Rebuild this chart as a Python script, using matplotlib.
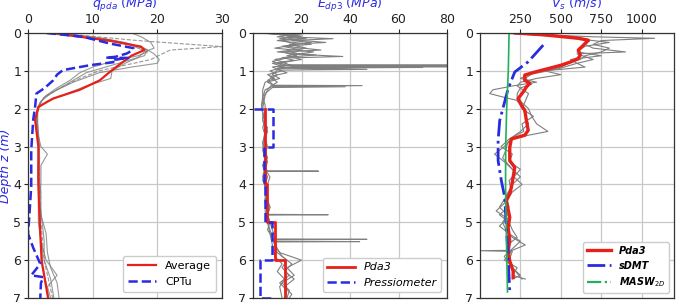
import matplotlib
matplotlib.use("Agg")
import matplotlib.pyplot as plt
from matplotlib.lines import Line2D
import numpy as np

# ---------------- data ----------------
# Panel 1: q_pda (MPa) vs depth (m)
Q_GRAY = [
    [(0, 16), (0.1, 17.5), (0.25, 19), (0.4, 19.5), (0.5, 18), (0.65, 17), (0.8, 15), (1.0, 13),
     (1.2, 12.8), (1.4, 9), (1.6, 6), (1.8, 3), (2.0, 1.5), (2.5, 1.3), (3.0, 2.0), (3.2, 3.0),
     (3.5, 2.0), (4.0, 2.0), (4.5, 1.8), (5.0, 2.2), (5.5, 2.5), (6.0, 2.5), (6.5, 3.5), (7.0, 4.0)],
    [(0, 2), (0.1, 8), (0.25, 14), (0.4, 18), (0.55, 19.5), (0.7, 20.3), (0.8, 20), (0.9, 16),
     (1.05, 11), (1.3, 7), (1.5, 4.5), (1.7, 2.5), (1.9, 1.8), (2.2, 1.2), (2.8, 1.5), (3.3, 1.8),
     (3.8, 1.5), (4.3, 1.8), (4.8, 2.0), (5.3, 2.8), (5.8, 3.0), (6.2, 3.5), (6.6, 4.5), (7.0, 4.8)],
    [(0, 5), (0.1, 10), (0.25, 15), (0.4, 17), (0.5, 18.5), (0.6, 17), (0.75, 13), (0.9, 10),
     (1.05, 8), (1.25, 6.5), (1.45, 4.5), (1.65, 2.8), (1.85, 1.8), (2.1, 1.3), (2.6, 1.6), (3.0, 1.8),
     (3.6, 1.5), (4.2, 2.0), (4.7, 2.0), (5.2, 1.8), (5.7, 2.2), (6.2, 2.2), (6.6, 2.8), (7.0, 3.2)],
    [(0, 3), (0.15, 12), (0.3, 16), (0.45, 18.5), (0.6, 18), (0.75, 15), (0.9, 12), (1.05, 9),
     (1.2, 7.5), (1.4, 5.5), (1.6, 3.5), (1.8, 2.0), (2.0, 1.5), (2.5, 1.5), (3.0, 1.6), (3.5, 1.8),
     (4.0, 1.8), (4.5, 1.6), (5.0, 1.6), (5.5, 2.0), (6.0, 2.8), (6.4, 4.5), (6.7, 3.0), (7.0, 3.5)],
]
Q_GRAY_DASHED = [(0, 4.4), (0.2, 17), (0.36, 30), (0.45, 22), (0.58, 20.4), (0.7, 19), (0.85, 15),
                 (1.0, 11), (1.2, 8), (1.45, 5), (1.7, 2.5), (1.9, 1.8), (2.2, 1.4), (3.0, 1.7),
                 (4.0, 1.8), (5.0, 2.0), (6.0, 2.5), (7.0, 3.8)]
Q_AVG_DEPTH = [0, 0.1, 0.2, 0.36, 0.45, 0.6, 0.75, 0.89, 1.05, 1.25, 1.5, 1.73, 1.95, 2.3, 3.0,
               4.0, 4.5, 5.3, 6.0, 6.5, 7.0]
Q_AVG = [4.0, 8.0, 12.5, 17.5, 18.0, 16.0, 14.8, 13.7, 12.5, 11.1, 8.0, 3.9, 1.6, 1.1, 1.6,
         1.6, 1.7, 1.9, 2.1, 2.6, 3.1]
Q_CPTU_DEPTH = [0, 0.1, 0.28, 0.4, 0.47, 0.54, 0.63, 0.65, 0.66, 0.7, 0.76, 0.85, 0.98, 1.1,
                1.25, 1.45, 1.6, 1.95, 2.3, 3.1, 4.05, 4.85, 5.3, 5.67, 6.1, 6.4, 6.45, 6.6, 7.0]
Q_CPTU = [2.9, 8.5, 12.7, 16.3, 16.0, 15.3, 13.5, 12.0, 15.5, 13.5, 13.7, 9.6, 5.4, 4.5,
          3.9, 2.6, 1.3, 1.1, 0.8, 0.5, 0.5, 0.2, 0.0, 0.8, 1.9, 0.5, 2.4, 2.0, 1.9]

# Panel 2: E_dp3 (MPa) vs depth (m)
E_GRAY = [
    [(0, 2), (0.05, 15), (0.1, 10), (0.15, 22), (0.2, 12), (0.3, 18), (0.4, 9), (0.5, 25), (0.6, 14),
     (0.7, 20), (0.8, 10), (0.84, 16), (0.85, 80), (0.86, 12), (0.9, 8), (1.0, 12), (1.1, 6),
     (1.2, 9), (1.3, 5), (1.5, 4), (1.7, 4), (1.9, 5), (2.1, 5), (2.3, 4), (2.5, 6), (2.7, 5),
     (2.9, 4), (3.1, 5), (3.3, 6), (3.5, 4), (3.64, 6), (3.65, 27), (3.66, 5), (3.8, 6), (4.0, 5),
     (4.2, 6), (4.4, 5), (4.6, 7), (4.8, 6), (5.0, 7), (5.2, 8), (5.4, 9), (5.6, 9), (5.8, 10),
     (6.0, 14), (6.2, 12), (6.4, 15), (6.6, 11), (6.8, 14), (7.0, 13)],
    [(0, 3), (0.05, 20), (0.1, 14), (0.15, 33), (0.2, 16), (0.25, 24), (0.35, 12), (0.45, 20),
     (0.55, 15), (0.62, 37), (0.66, 14), (0.75, 8), (0.85, 12), (0.88, 18), (0.89, 80), (0.9, 16),
     (0.95, 10), (1.05, 14), (1.15, 7), (1.3, 10), (1.38, 8), (1.39, 45), (1.41, 8), (1.5, 5),
     (1.7, 4), (1.9, 3.5), (2.1, 4), (2.3, 5), (2.5, 4), (2.7, 5), (2.9, 4.5), (3.1, 4), (3.3, 5),
     (3.5, 4), (3.7, 5), (3.9, 4), (4.1, 6), (4.3, 5), (4.5, 5), (4.7, 6), (4.79, 6), (4.8, 31),
     (4.81, 6), (5.0, 6), (5.2, 7), (5.4, 8), (5.44, 8), (5.45, 47), (5.46, 8), (5.6, 9),
     (5.8, 11), (6.0, 20), (6.2, 14), (6.4, 17), (6.6, 12), (6.8, 15), (7.0, 14)],
    [(0, 5), (0.05, 12), (0.1, 20), (0.2, 10), (0.3, 24), (0.35, 13), (0.45, 28), (0.5, 12),
     (0.6, 18), (0.7, 9), (0.8, 14), (0.9, 10), (0.91, 70), (0.93, 11), (0.96, 47), (0.98, 10),
     (1.1, 8), (1.2, 11), (1.3, 6), (1.4, 9), (1.42, 38), (1.44, 8), (1.6, 5), (1.8, 4), (2.0, 3.5),
     (2.2, 4.5), (2.4, 5), (2.6, 6), (2.8, 5), (3.0, 6), (3.2, 5), (3.4, 6), (3.6, 5), (3.8, 7),
     (4.0, 6), (4.2, 5), (4.4, 6), (4.6, 7), (4.8, 6), (5.0, 7), (5.2, 6), (5.4, 8), (5.5, 9),
     (5.51, 44), (5.52, 9), (5.7, 10), (5.9, 12), (6.1, 16), (6.3, 13), (6.5, 17), (6.7, 13),
     (6.9, 16), (7.0, 15)],
    [(0, 4), (0.08, 18), (0.15, 11), (0.25, 30), (0.3, 15), (0.4, 22), (0.5, 10), (0.58, 26),
     (0.65, 12), (0.72, 17), (0.8, 8), (0.9, 13), (1.0, 7), (1.1, 10), (1.25, 6), (1.35, 8),
     (1.5, 6), (1.65, 5), (1.8, 4.5), (2.0, 4), (2.3, 4), (2.6, 5), (2.9, 4), (3.2, 4.5), (3.5, 5),
     (3.8, 4), (4.1, 5), (4.4, 5.5), (4.7, 5), (5.0, 6), (5.3, 7), (5.6, 8), (5.9, 9), (6.1, 12),
     (6.3, 10), (6.5, 13), (6.7, 11), (7.0, 12)],
]
E_PDA3_DEPTH = [2, 3, 3, 4, 4, 5, 5, 6, 6, 7]
E_PDA3 = [4.8, 4.8, 5.0, 5.0, 5.7, 5.7, 9.1, 9.1, 13.2, 13.2]
E_PRESS_DEPTH = [2, 2, 3, 3, 4, 4, 5, 5, 6, 6, 7, 7]
E_PRESS = [0.3, 8.4, 8.4, 4.4, 4.4, 5.0, 5.0, 7.8, 7.8, 3.0, 3.0, 7.8]

# Panel 3: V_s (m/s) vs depth (m)
V_GRAY = [
    [(0, 100), (0.05, 400), (0.1, 700), (0.14, 1080), (0.2, 750), (0.3, 700), (0.4, 800),
     (0.5, 750), (0.6, 650), (0.7, 620), (0.8, 550), (0.9, 500), (1.0, 420), (1.1, 300),
     (1.2, 250), (1.3, 350), (1.4, 200), (1.5, 80), (1.6, 60), (1.7, 150), (1.8, 250), (2.0, 300),
     (2.2, 320), (2.4, 350), (2.6, 420), (2.7, 300), (2.8, 200), (3.0, 150), (3.2, 90), (3.4, 150),
     (3.6, 200), (3.8, 250), (4.0, 200), (4.2, 180), (4.4, 150), (4.6, 120), (4.8, 170), (5.0, 140),
     (5.2, 160), (5.4, 200), (5.6, 280), (5.74, 200), (5.75, 0), (5.77, 200), (6.0, 180),
     (6.2, 200), (6.4, 250), (6.5, 200)],
    [(0, 200), (0.1, 600), (0.2, 680), (0.3, 650), (0.4, 700), (0.5, 900), (0.55, 600), (0.7, 700),
     (0.8, 600), (0.9, 650), (1.0, 400), (1.1, 500), (1.2, 350), (1.3, 250), (1.4, 230), (1.6, 300),
     (1.8, 280), (2.0, 260), (2.2, 330), (2.4, 260), (2.6, 270), (2.8, 180), (3.0, 130), (3.2, 200),
     (3.4, 180), (3.6, 250), (3.8, 210), (4.0, 260), (4.2, 200), (4.5, 150), (4.7, 100), (4.9, 170),
     (5.1, 120), (5.3, 180), (5.5, 250), (5.7, 200), (5.9, 150), (6.1, 180), (6.3, 220), (6.5, 260)],
    [(0, 150), (0.1, 500), (0.15, 600), (0.25, 800), (0.35, 650), (0.5, 600), (0.6, 750),
     (0.7, 560), (0.8, 600), (0.95, 480), (1.05, 330), (1.2, 280), (1.35, 320), (1.45, 250),
     (1.6, 230), (1.8, 230), (2.0, 270), (2.2, 280), (2.4, 300), (2.6, 250), (2.75, 200), (2.9, 170),
     (3.1, 160), (3.3, 140), (3.5, 180), (3.7, 220), (3.9, 180), (4.1, 190), (4.3, 160), (4.6, 180),
     (4.8, 120), (5.0, 180), (5.2, 200), (5.4, 230), (5.6, 170), (5.8, 190), (6.0, 150), (6.2, 230),
     (6.4, 200), (6.5, 280)],
]
V_PDA3_DEPTH = [0, 0.05, 0.14, 0.19, 0.32, 0.45, 0.58, 0.67, 0.76, 0.85, 0.94, 1.03, 1.11, 1.25,
                1.33, 1.42, 1.56, 1.73, 1.91, 2.04, 2.31, 2.57, 2.7, 2.8, 3.02, 3.37, 3.55, 3.81,
                4.08, 4.25, 4.43, 4.87, 5.14, 5.49, 5.76, 6.02, 6.29, 6.46]
V_PDA3 = [220, 400, 608, 670, 640, 608, 620, 608, 563, 502, 422, 341, 277, 277,
          308, 288, 267, 236, 256, 277, 287, 298, 277, 194, 184, 184, 215, 205,
          194, 184, 163, 184, 174, 184, 174, 184, 205, 205]
V_SDMT_DEPTH = [0.32, 0.76, 1.03, 1.47, 2.31, 2.84, 3.37, 3.9, 4.34, 5.14, 5.93, 6.82]
V_SDMT = [391, 298, 215, 174, 122, 112, 112, 132, 153, 163, 174, 184]
V_MASW_DEPTH = [0, 1.0, 2.0, 3.0, 4.0, 5.0, 6.0, 6.84]
V_MASW = [180, 175, 165, 159, 158, 162, 166, 170]

# ---------------- plotting ----------------
BLUE = '#2a2ae0'
RED = '#e8201a'
GRAY = '#7f7f7f'
GREEN = '#22b05a'

fig = plt.figure(figsize=(6.79, 3.02), dpi=100)
W, H = 679, 302
def add_ax(x0, x1, y0=33, y1=298):
    return fig.add_axes([x0 / W, 1 - y1 / H, (x1 - x0) / W, (y1 - y0) / H])

ax1 = add_ax(28, 222)
ax2 = add_ax(253, 447)
ax3 = add_ax(480, 674)

def style(ax, xlim, xticks, xlabel):
    ax.set_xlim(*xlim)
    ax.set_ylim(7, 0)
    ax.set_yticks(range(0, 8))
    ax.set_xticks(xticks)
    ax.xaxis.tick_top()
    ax.xaxis.set_label_position('top')
    ax.set_xlabel(xlabel, color=BLUE, fontsize=9, labelpad=3.5, fontstyle='italic')
    ax.grid(True, color='#c8c8c8', lw=0.9)
    ax.set_axisbelow(True)
    ax.tick_params(labelsize=9, colors='#222222', length=3, pad=2)
    for s in ax.spines.values():
        s.set_color('#333333')
        s.set_linewidth(0.9)

def pairs(p):
    a = np.array(p, dtype=float)
    return a[:, 1], a[:, 0]

# Panel 1
for c in Q_GRAY:
    x, y = pairs(c)
    ax1.plot(x, y, color=GRAY, lw=0.8, alpha=0.8)
x, y = pairs(Q_GRAY_DASHED)
ax1.plot(x, y, color=GRAY, lw=0.8, ls='--', alpha=0.8)
ax1.plot(Q_AVG, Q_AVG_DEPTH, color=RED, lw=1.6, label='Average')
ax1.plot(Q_CPTU, Q_CPTU_DEPTH, color=BLUE, lw=1.8, ls='--', label='CPTu')
style(ax1, (0, 30), [0, 10, 20, 30], r'$q_{pda}\ (MPa)$')
ax1.set_ylabel('Depth z (m)', color=BLUE, fontsize=9, fontstyle='italic', labelpad=1)
ax1.legend(loc='lower right', fontsize=8, handlelength=2.5, framealpha=1, borderpad=0.5)

# Panel 2
for c in E_GRAY:
    x, y = pairs(c)
    ax2.plot(x, y, color=GRAY, lw=0.8)
ax2.plot(E_PDA3, E_PDA3_DEPTH, color=RED, lw=2.0, label='Pda3')
ax2.plot(E_PRESS, E_PRESS_DEPTH, color=BLUE, lw=1.8, ls='--', label='Pressiometer')
style(ax2, (0, 80), [20, 40, 60, 80], r'$E_{dp3}\ (MPa)$')
ax2.legend(loc='lower right', handlelength=2.5, framealpha=1,
           prop={'style': 'italic', 'size': 8})

# Panel 3
for c in V_GRAY:
    x, y = pairs(c)
    ax3.plot(x, y, color=GRAY, lw=0.8)
ax3.plot(V_PDA3, V_PDA3_DEPTH, color=RED, lw=2.4, label='Pda3')
ax3.plot(V_SDMT, V_SDMT_DEPTH, color=BLUE, lw=2.0, ls='-.', label='sDMT')
ax3.plot(V_MASW, V_MASW_DEPTH, color=GREEN, lw=1.2, ls='-', label=r'MASW$_{2D}$')
style(ax3, (0, 1200), [250, 500, 750, 1000], r'$V_s\ (m/s)$')
h, l = ax3.get_legend_handles_labels()
h[2] = Line2D([], [], color=GREEN, lw=1.6, ls='-.')
ax3.legend(h, l, loc='lower right', handlelength=2.5, framealpha=1,
           prop={'style': 'italic', 'weight': 'bold', 'size': 7})

fig.savefig('out.png', dpi=100)
